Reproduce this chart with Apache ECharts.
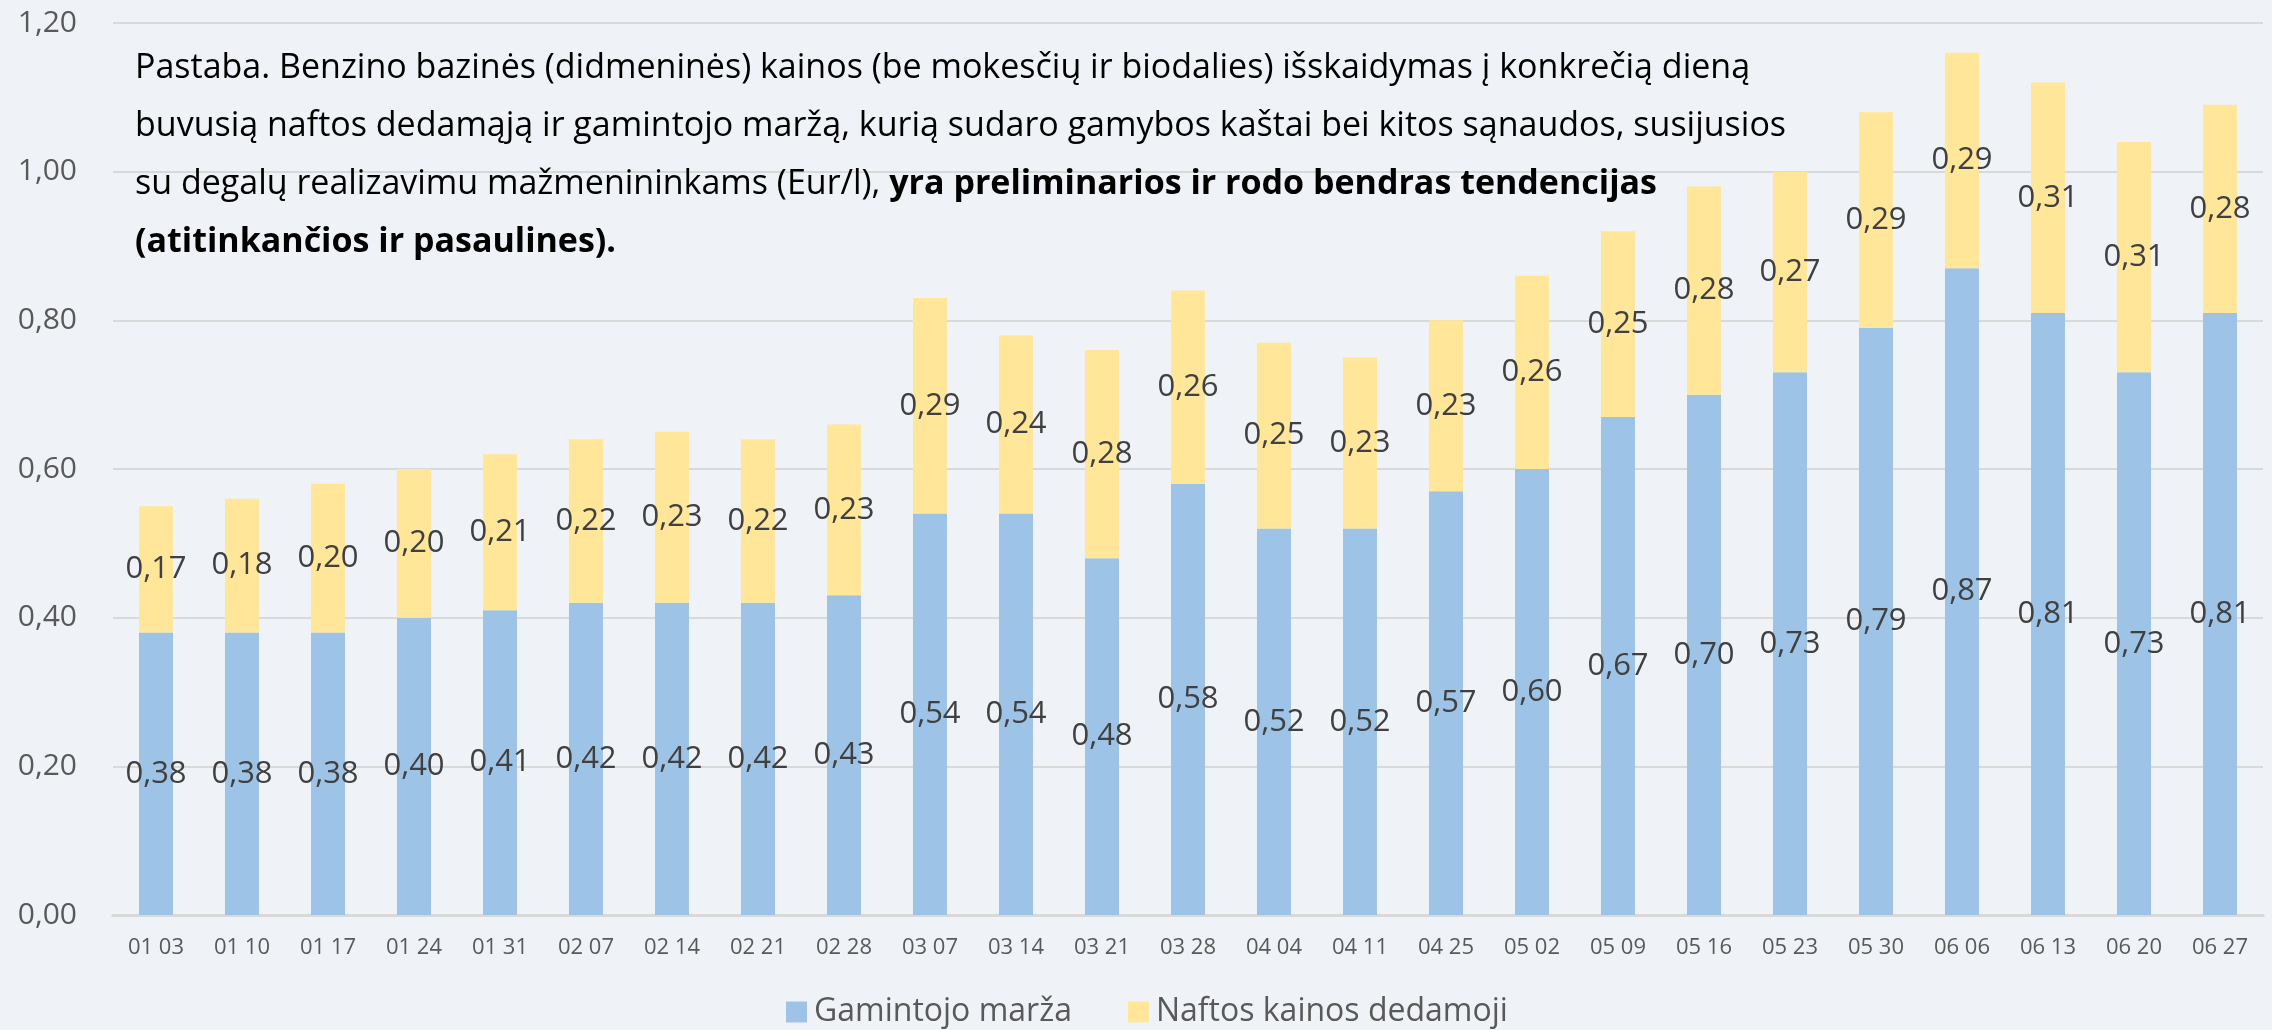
<!DOCTYPE html>
<html>
<head>
<meta charset="utf-8">
<script src="https://cdn.jsdelivr.net/npm/echarts@6/dist/echarts.min.js"></script>
<style>
    html, body { margin: 0; padding: 0; background: #eff3f7; }
    #chart { width: 2272px; height: 1030px; }
</style>
</head>
<body>
<div id="chart"></div>
<script>
    // savaites (men. diena)
    const dates = ['01 03', '01 10', '01 17', '01 24', '01 31', '02 07', '02 14', '02 21', '02 28',
        '03 07', '03 14', '03 21', '03 28', '04 04', '04 11', '04 25', '05 02', '05 09', '05 16',
        '05 23', '05 30', '06 06', '06 13', '06 20', '06 27']
    const margin = [0.38, 0.38, 0.38, 0.40, 0.41, 0.42, 0.42, 0.42, 0.43,
        0.54, 0.54, 0.48, 0.58, 0.52, 0.52, 0.57, 0.60, 0.67, 0.70,
        0.73, 0.79, 0.87, 0.81, 0.73, 0.81]
    const oil = [0.17, 0.18, 0.20, 0.20, 0.21, 0.22, 0.23, 0.22, 0.23,
        0.29, 0.24, 0.28, 0.26, 0.25, 0.23, 0.23, 0.26, 0.25, 0.28,
        0.27, 0.29, 0.29, 0.31, 0.31, 0.28]
    const seriesNames = ['Gamintojo marža', 'Naftos kainos dedamoji']
    const yTicks = { min: 0, max: 1.2, interval: 0.2 }

    const noteLines = [
        'Pastaba. Benzino bazinės (didmeninės) kainos (be mokesčių ir biodalies) išskaidymas į konkrečią dieną',
        'buvusią naftos dedamąją ir gamintojo maržą, kurią sudaro gamybos kaštai bei kitos sąnaudos, susijusios',
        'su degalų realizavimu mažmenininkams (Eur/l), {b|yra preliminarios ir rodo bendras tendencijas}',
        '{b|(atitinkančios ir pasaulines).}'
    ]

    const font = 'Open Sans'
    const comma = v => v.toFixed(2).replace('.', ',')

    const labelStyle = {
        show: true,
        position: 'inside',
        formatter: p => comma(p.value),
        color: '#404040',
        fontFamily: font,
        fontSize: 31
    }

    const chart = echarts.init(document.getElementById('chart'))
    chart.setOption({
        animation: false,
        backgroundColor: '#eff3f7',
        grid: { left: 113, right: 9, top: 23, bottom: 115 },
        legend: {
            data: seriesNames,
            left: 781,
            top: 991,
            itemWidth: 21,
            itemHeight: 21,
            itemGap: 56,
            icon: 'rect',
            textStyle: { color: '#595959', fontFamily: font, fontSize: 32, padding: [0, 0, 0, 2] }
        },
        xAxis: {
            type: 'category',
            data: dates,
            axisLine: { lineStyle: { color: '#d9d9d9', width: 3 } },
            axisTick: { show: false },
            axisLabel: { color: '#595959', fontFamily: font, fontSize: 22, margin: 22, interval: 0 }
        },
        yAxis: {
            type: 'value',
            min: yTicks.min,
            max: yTicks.max,
            interval: yTicks.interval,
            axisLine: { show: false },
            axisTick: { show: false },
            axisLabel: { color: '#595959', fontFamily: font, fontSize: 30, margin: 36, formatter: comma },
            splitLine: { lineStyle: { color: '#d9d9d9', width: 2 } }
        },
        series: [{
            name: seriesNames[0],
            type: 'bar',
            stack: 'kaina',
            barWidth: 34,
            data: margin,
            itemStyle: { color: '#9dc3e6' },
            label: labelStyle
        }, {
            name: seriesNames[1],
            type: 'bar',
            stack: 'kaina',
            barWidth: 34,
            data: oil,
            itemStyle: { color: '#ffe699' },
            label: labelStyle
        }],
        graphic: [{
            type: 'text',
            left: 135,
            top: 39,
            z: 100,
            style: {
                text: noteLines.join('\n'),
                fill: '#000',
                fontFamily: font,
                fontSize: 34,
                lineHeight: 58,
                rich: {
                    b: { fontFamily: font, fontSize: 34, fontWeight: 'bold', fill: '#000', lineHeight: 58 }
                }
            }
        }]
    })
</script>
</body>
</html>
